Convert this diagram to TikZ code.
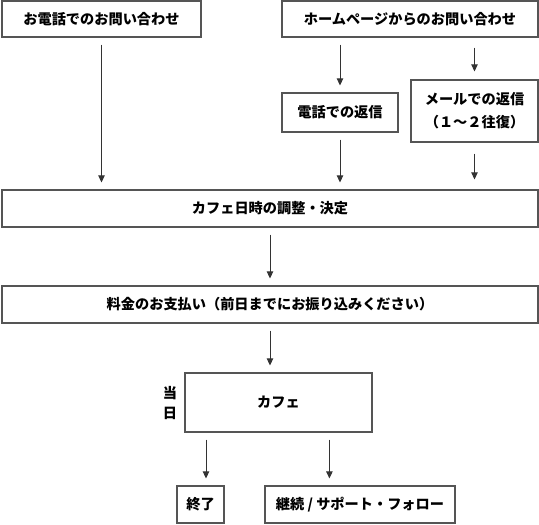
\documentclass[tikz,border=0pt]{standalone}
\usepackage{fontspec}
\setmainfont{Noto Sans CJK JP}
\usetikzlibrary{arrows.meta}
\definecolor{boxgray}{HTML}{555555}
\definecolor{arrgray}{HTML}{333333}
\tikzset{box/.style={draw=boxgray,line width=1.2pt,rectangle,inner sep=0pt,align=center,font=\fontsize{14.2}{23}\selectfont\bfseries},
arr/.style={draw=arrgray,line width=.9pt,-{Triangle[length=7pt,width=6.5pt]},shorten <=7pt,shorten >=7pt}}
\begin{document}
\begin{tikzpicture}[x=1pt,y=-1pt]
\useasboundingbox(0,0)rectangle(539,525);
\node[box,minimum width=199pt,minimum height=36pt](tel0)at(101.5,19){お電話でのお問い合わせ};
\node[box,minimum width=256pt,minimum height=36pt](web)at(410,19){ホームページからのお問い合わせ};
\node[box,minimum width=116pt,minimum height=39pt](telre)at(340,112.5){電話での返信};
\node[box,minimum width=127pt,minimum height=62pt](mailre)at(474.5,111){メールでの返信\\（１～２往復）};
\node[box,minimum width=536pt,minimum height=37pt](plan)at(270,208.5){カフェ日時の調整・決定};
\node[box,minimum width=536pt,minimum height=37pt](pay)at(270,304.5){料金のお支払い（前日までにお振り込みください）};
\node[box,minimum width=187pt,minimum height=59pt](cafe)at(278.5,402.5){カフェ};
\node[align=center,inner sep=0pt,font=\fontsize{14.2}{20}\selectfont\bfseries](day)at(170,403){当\\日};
\node[box,minimum width=47pt,minimum height=37pt](fin)at(200.5,504.5){終了};
\node[box,minimum width=190pt,minimum height=37pt](cont)at(360,504.5){継続 / サポート・フォロー};
\draw[arr](tel0.south)--(tel0.south|-plan.north);
\draw[arr](telre.north|-web.south)--(telre.north);
\draw[arr,shorten <=10pt,shorten >=8pt](mailre.north|-web.south)--(mailre.north);
\draw[arr](telre.south)--(telre.south|-plan.north);
\draw[arr,shorten <=11pt,shorten >=10pt](mailre.south)--(mailre.south|-plan.north);
\draw[arr](plan.south)--(pay.north);
\draw[arr](pay.south)--(pay.south|-cafe.north);
\draw[arr]([xshift=5.5pt]fin.north|-cafe.south)--([xshift=5.5pt]fin.north);
\draw[arr]([xshift=65pt]cont.north west|-cafe.south)--([xshift=65pt]cont.north west);
\end{tikzpicture}
\end{document}
